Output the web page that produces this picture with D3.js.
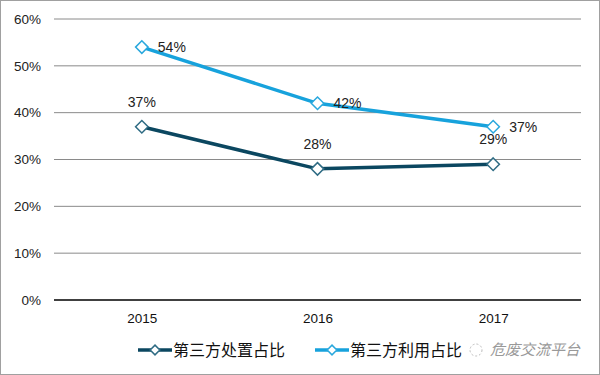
<!DOCTYPE html>
<html>
<head>
<meta charset="utf-8">
<script src="https://cdn.jsdelivr.net/npm/d3@7"></script>
<style>
  body { margin: 0; background: #fff; }
  svg { display: block; font-family: Arial, "Liberation Sans", sans-serif; }
</style>
</head>
<body>
<svg id="chart"></svg>
<script>
const years = ['2015', '2016', '2017'];
const disposal = [37, 28, 29];   // 第三方处置占比
const reuse = [54, 42, 37];      // 第三方利用占比
const yTicks = [0, 10, 20, 30, 40, 50, 60];
const seriesNames = ['第三方处置占比', '第三方利用占比'];

const width = 600, height = 375;
const margin = {top: 19, right: 19, bottom: 75, left: 54};

const svg = d3.select('#chart')
  .attr('width', width)
  .attr('height', height);

// outer frame
svg.append('rect')
  .attr('x', 0.5).attr('y', 0.5)
  .attr('width', width - 1).attr('height', height - 1)
  .attr('fill', 'none')
  .attr('stroke', '#a0a0a0');

const xScale = d3.scalePoint()
  .domain(years)
  .range([margin.left, width - margin.right])
  .padding(0.5);

const yScale = d3.scaleLinear()
  .domain([0, 60])
  .range([height - margin.bottom, margin.top]);

// gridlines
svg.append('g')
  .selectAll('line')
  .data(yTicks.filter(d => d > 0))
  .join('line')
  .attr('x1', margin.left).attr('x2', width - margin.right)
  .attr('y1', d => yScale(d)).attr('y2', d => yScale(d))
  .attr('stroke', '#8a8a8a')
  .attr('stroke-width', 1);

// y axis labels
const yAxis = d3.axisLeft(yScale)
  .tickValues(yTicks)
  .tickSize(0)
  .tickPadding(13)
  .tickFormat(d => d + '%');

svg.append('g')
  .attr('transform', 'translate(' + margin.left + ',0)')
  .call(yAxis)
  .call(g => g.select('.domain').remove())
  .selectAll('text')
  .attr('font-size', 13.5)
  .attr('fill', '#222');

// x axis
const xAxis = d3.axisBottom(xScale).tickSize(0).tickPadding(13);
svg.append('g')
  .attr('transform', 'translate(0,' + (height - margin.bottom) + ')')
  .call(xAxis)
  .call(g => g.select('.domain')
    .attr('stroke', '#404040')
    .attr('stroke-width', 2)
    .attr('d', 'M' + margin.left + ',0H' + (width - margin.right)))
  .selectAll('text')
  .attr('font-size', 13.5)
  .attr('fill', '#111');

const line = d3.line()
  .x((d, i) => xScale(years[i]))
  .y(d => yScale(d));

const diamond = d3.symbol().type(d3.symbolDiamond2).size(100);

function drawSeries(values, color, markColor, labelPos) {
  svg.append('path')
    .attr('d', line(values))
    .attr('fill', 'none')
    .attr('stroke', color)
    .attr('stroke-width', 3.5);

  svg.append('g')
    .selectAll('path')
    .data(values)
    .join('path')
    .attr('d', diamond)
    .attr('transform', (d, i) => 'translate(' + xScale(years[i]) + ',' + yScale(d) + ')')
    .attr('fill', '#fff')
    .attr('stroke', markColor)
    .attr('stroke-width', 1.5);

  svg.append('g')
    .selectAll('text')
    .data(values)
    .join('text')
    .attr('x', (d, i) => xScale(years[i]) + labelPos.dx)
    .attr('y', d => yScale(d) + labelPos.dy)
    .attr('text-anchor', labelPos.anchor)
    .attr('font-size', 14)
    .attr('fill', '#222')
    .text(d => d + '%');
}

drawSeries(disposal, '#0b4760', '#2f6c84', {dx: 0, dy: -20, anchor: 'middle'});
drawSeries(reuse, '#17a2dc', '#2aa8dd', {dx: 16, dy: 5, anchor: 'start'});

// legend
const legend = svg.append('g').attr('transform', 'translate(0,350)');
const legendItems = [
  {name: seriesNames[0], color: '#0b4760', mark: '#2f6c84', x: 138},
  {name: seriesNames[1], color: '#17a2dc', mark: '#2aa8dd', x: 315}
];
legendItems.forEach(it => {
  legend.append('line')
    .attr('x1', it.x).attr('x2', it.x + 34)
    .attr('y1', 0).attr('y2', 0)
    .attr('stroke', it.color).attr('stroke-width', 3.5);
  legend.append('path')
    .attr('d', d3.symbol().type(d3.symbolDiamond2).size(60)())
    .attr('transform', 'translate(' + (it.x + 17) + ',0)')
    .attr('fill', '#fff')
    .attr('stroke', it.mark).attr('stroke-width', 1.5);
  legend.append('text')
    .attr('x', it.x + 35).attr('y', 6)
    .attr('font-family', '"Noto Sans CJK SC", sans-serif')
    .attr('font-size', 16)
    .attr('fill', '#111')
    .text(it.name);
});

// watermark
svg.append('circle')
  .attr('cx', 476).attr('cy', 350).attr('r', 6)
  .attr('fill', 'none').attr('stroke', '#bbb').attr('stroke-dasharray', '2,2');
svg.append('text')
  .attr('x', 490).attr('y', 355)
  .attr('font-family', '"Noto Sans CJK SC", sans-serif')
  .attr('font-size', 15)
  .attr('font-style', 'italic')
  .attr('fill', '#999')
  .text('危废交流平台');
</script>
</body>
</html>
